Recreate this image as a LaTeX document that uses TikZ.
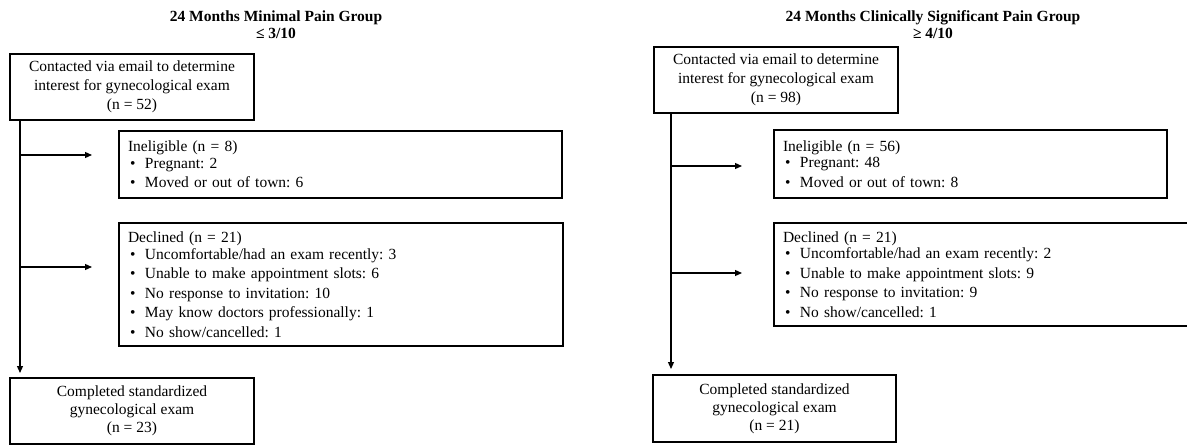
\documentclass[tikz,border=0pt]{standalone}
\usepackage{fontspec}
\setmainfont{Liberation Serif}
\frenchspacing
\usetikzlibrary{arrows.meta}
\tikzset{
  box/.style={draw, line width=1.2pt, rectangle, anchor=north west, inner sep=0pt, outer sep=0pt},
  cbox/.style={box, align=center, font=\fontsize{15.5}{19}\selectfont},
  lbox/.style={box, align=left, inner xsep=9pt, font=\fontsize{15.5}{16.5}\selectfont},
  ttl/.style={align=center, font=\fontsize{15.5}{17}\selectfont\bfseries},
  arr/.style={line width=1.2pt, -{Triangle[length=7pt,width=6pt]}},
}
\newcommand{\bul}{\hspace*{2pt}\makebox[15pt][l]{•}}
\begin{document}
\begin{tikzpicture}[x=1pt,y=-1pt]
\useasboundingbox (0,0) rectangle (1187,445);
% ---------- left panel ----------
\node[ttl] (ttl1) at (276,24.5) {24 Months Minimal Pain Group\\≤ 3/10};
\node[cbox, minimum width=244pt, minimum height=66pt] (top1) at (10,54)
  {Contacted via email to determine\\interest for gynecological exam\\(n = 52)};
\node[lbox, text width=425pt, minimum height=67pt] (inel1) at (119,131)
  {Ineligible (n = 8)\\
   \bul Pregnant: 2\\[3pt]
   \bul Moved or out of town: 6};
\node[lbox, text width=426pt, minimum height=123pt] (decl1) at (119,223)
  {Declined (n = 21)\\
   \bul Uncomfortable/had an exam recently: 3\\[3pt]
   \bul Unable to make appointment slots: 6\\[3pt]
   \bul No response to invitation: 10\\[3pt]
   \bul May know doctors professionally: 1\\[3pt]
   \bul No show/cancelled: 1};
\node[cbox, minimum width=244pt, minimum height=66pt, font=\fontsize{15.5}{18}\selectfont] (bot1) at (10,378)
  {Completed standardized\\gynecological exam\\(n = 23)};
\coordinate (t1) at (20,0);
\coordinate (a1) at (20,155);
\coordinate (d1) at (20,267);
\draw[arr, shorten >=5pt] (top1.south -| t1) -- (bot1.north -| t1);
\draw[arr, shorten >=27pt] (a1) -- (a1 -| inel1.west);
\draw[arr, shorten >=27pt] (d1) -- (d1 -| decl1.west);
% ---------- right panel ----------
\node[ttl] (ttl2) at (933,24.5) {24 Months Clinically Significant Pain Group\\≥ 4/10};
\node[cbox, minimum width=244pt, minimum height=66pt] (top2) at (654,47)
  {Contacted via email to determine\\interest for gynecological exam\\(n = 98)};
\node[lbox, text width=375pt, minimum height=68pt] (inel2) at (774,130)
  {Ineligible (n = 56)\\
   \bul Pregnant: 48\\[3pt]
   \bul Moved or out of town: 8};
\node[lbox, text width=402pt, minimum height=103pt] (decl2) at (774,223)
  {Declined (n = 21)\\
   \bul Uncomfortable/had an exam recently: 2\\[3pt]
   \bul Unable to make appointment slots: 9\\[3pt]
   \bul No response to invitation: 9\\[3pt]
   \bul No show/cancelled: 1};
\node[cbox, minimum width=243pt, minimum height=67pt, font=\fontsize{15.5}{18}\selectfont] (bot2) at (653,375)
  {Completed standardized\\gynecological exam\\(n = 21)};
\coordinate (t2) at (671,0);
\coordinate (a2) at (671,166);
\coordinate (d2) at (671,273);
\draw[arr, shorten >=6pt] (top2.south -| t2) -- (bot2.north -| t2);
\draw[arr, shorten >=32pt] (a2) -- (a2 -| inel2.west);
\draw[arr, shorten >=32pt] (d2) -- (d2 -| decl2.west);
\end{tikzpicture}
\end{document}
